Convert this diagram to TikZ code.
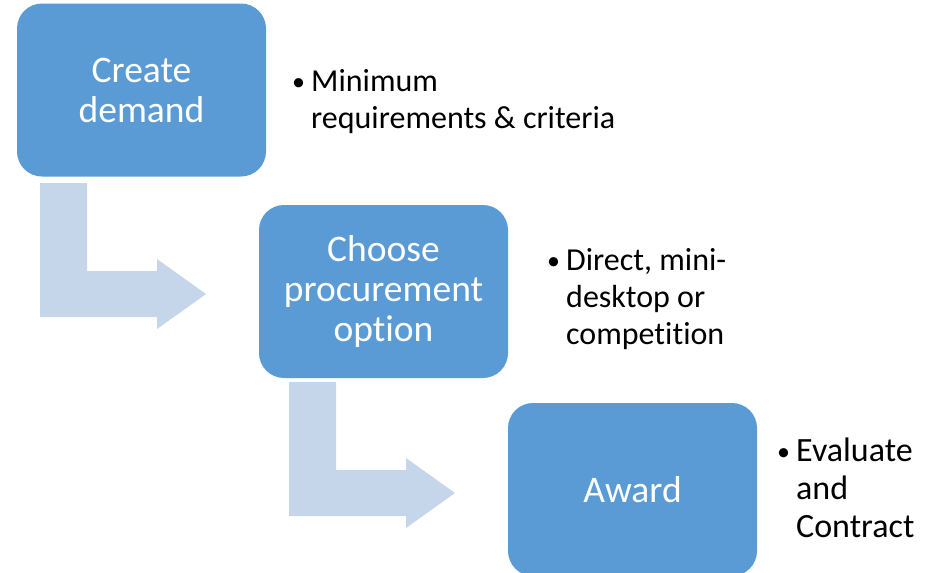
\documentclass[tikz,border=0pt]{standalone}
\usepackage{fontspec}
\setmainfont[Ligatures=NoCommon]{Carlito}
\usetikzlibrary{positioning}
\definecolor{boxblue}{HTML}{5B9BD5}
\definecolor{arrowblue}{HTML}{C5D5EA}
\tikzset{
  stage/.style={rectangle, rounded corners=25pt, fill=boxblue, text=white,
    minimum width=249pt, minimum height=173pt, inner sep=0pt, align=center,
    font=\fontsize{37.5}{40}\selectfont},
  note/.style={anchor=base west, inner sep=0pt, font=\fontsize{32}{37}\selectfont},
  bentarrow/.style={fill=arrowblue}
}
\newcommand\bul{\makebox[19pt][l]{\raisebox{0.5pt}{\fontsize{26}{26}\selectfont\textbullet}}}
\begin{document}
\begin{tikzpicture}[x=1pt,y=-1pt]
\useasboundingbox (0,0) rectangle (943,573);
% stages
\node[stage] (create) at (141.5,90) {Create\\demand};
\node[stage] (choose) at (383.5,291.5) {Choose\\procurement\\option};
\node[stage] (award) at (632.5,489.5) {Award};
% notes
\node[note] (createnote) at (292,91) {\begin{tabular}[t]{@{}l@{}l@{}}\bul & Minimum\\ & requirements \& criteria\end{tabular}};
\node[note] (choosenote) at (547,270) {\begin{tabular}[t]{@{}l@{}l@{}}\bul & Direct, mini-\\ & desktop or\\ & competition\end{tabular}};
\node[note, font=\fontsize{34}{38}\selectfont] (awardnote) at (777,461) {\begin{tabular}[t]{@{}l@{}l@{}}\bul & Evaluate\\ & and\\ & Contract\end{tabular}};
% bent arrows
\foreach \p in {(40,183),(289,382)}
  \fill[bentarrow, shift={\p}] (0,0) -- (47,0) -- (47,88) -- (117,88) -- (117,76)
    -- (166,111) -- (117,146) -- (117,134) -- (0,134) -- cycle;
\end{tikzpicture}
\end{document}
